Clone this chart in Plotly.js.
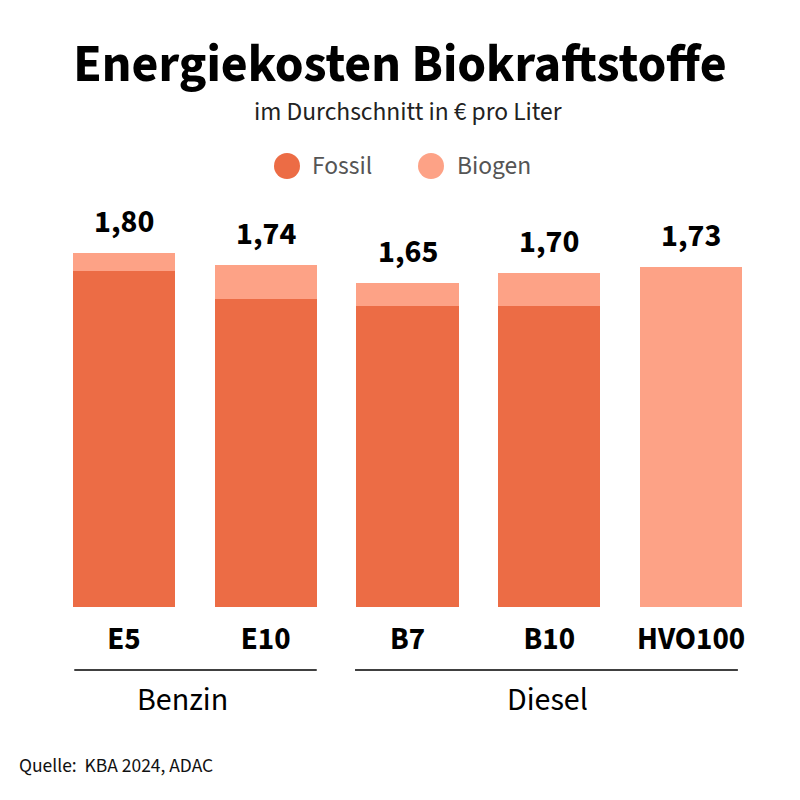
<!DOCTYPE html>
<html>
<head>
<meta charset="utf-8">
<script src="https://cdn.plot.ly/plotly-3.0.1.min.js"></script>
<style>html,body{margin:0;padding:0;background:#fff;}#chart{width:800px;height:800px;}</style>
</head>
<body>
<div id="chart"></div>
<script>
const categories = ["E5", "E10", "B7", "B10", "HVO100"];
const fossil = [1.71, 1.57, 1.53, 1.53, 0];
const biogen = [0.09, 0.17, 0.12, 0.17, 1.73];
const totals = [1.80, 1.74, 1.65, 1.70, 1.73];
const totalLabels = ["1,80", "1,74", "1,65", "1,70", "1,73"];
const groups = ["Benzin", "Diesel"];
const seriesNames = ["Fossil", "Biogen"];

const FONT = "'Source Sans Pro', 'Source Sans 3', Lato, 'Noto Sans', sans-serif";
const cFossil = "#EC6C45";
const cBiogen = "#FDA286";

const traces = [
  {type: "bar", name: seriesNames[0], x: categories, y: fossil, marker: {color: cFossil}, showlegend: false, hoverinfo: "none"},
  {type: "bar", name: seriesNames[1], x: categories, y: biogen, marker: {color: cBiogen}, showlegend: false, hoverinfo: "none"}
];

// pixel -> paper helpers (plot area: x 53..762, y 214..607)
const L = 53, R = 38, T = 214, B = 193, W = 800, H = 800;
const pw = W - L - R, ph = H - T - B;
const px = v => (v - L) / pw;
const py = v => (H - B - v) / ph;

const annotations = [];
categories.forEach((c, i) => {
  annotations.push({x: c, y: totals[i], xref: "x", yref: "y", text: totalLabels[i], showarrow: false,
    yanchor: "bottom", yshift: 6, font: {family: FONT, size: 32, color: "#000", weight: "bold"}});
});
annotations.push({xref: "paper", yref: "paper", x: 0.5, y: py(112), text: "im Durchschnitt in € pro Liter",
  showarrow: false, xanchor: "center", yanchor: "middle", font: {family: FONT, size: 25.5, color: "#222"}});
annotations.push({xref: "paper", yref: "paper", x: px(310), y: py(166), text: seriesNames[0], showarrow: false,
  xanchor: "left", yanchor: "middle", font: {family: FONT, size: 25.5, color: "#555"}});
annotations.push({xref: "paper", yref: "paper", x: px(455), y: py(166), text: seriesNames[1], showarrow: false,
  xanchor: "left", yanchor: "middle", font: {family: FONT, size: 25.5, color: "#555"}});
annotations.push({xref: "x", yref: "paper", x: 0.41, y: py(700), text: groups[0], showarrow: false,
  xanchor: "center", yanchor: "middle", font: {family: FONT, size: 32, color: "#000"}});
annotations.push({xref: "x", yref: "paper", x: 2.99, y: py(700), text: groups[1], showarrow: false,
  xanchor: "center", yanchor: "middle", font: {family: FONT, size: 32, color: "#000"}});
annotations.push({xref: "paper", yref: "paper", x: px(17), y: py(766), text: "Quelle:  KBA 2024, ADAC", showarrow: false,
  xanchor: "left", yanchor: "middle", font: {family: FONT, size: 19.5, color: "#111"}});

const shapes = [
  {type: "circle", xref: "paper", yref: "paper", xsizemode: "pixel", ysizemode: "pixel",
   xanchor: px(287), yanchor: py(166), x0: -13, x1: 13, y0: -13, y1: 13, fillcolor: cFossil, line: {width: 0}},
  {type: "circle", xref: "paper", yref: "paper", xsizemode: "pixel", ysizemode: "pixel",
   xanchor: px(431), yanchor: py(166), x0: -13, x1: 13, y0: -13, y1: 13, fillcolor: cBiogen, line: {width: 0}},
  {type: "line", xref: "x", yref: "paper", x0: -0.35, x1: 1.36, y0: py(670), y1: py(670), line: {color: "#000", width: 1.5}},
  {type: "line", xref: "x", yref: "paper", x0: 1.63, x1: 4.33, y0: py(670), y1: py(670), line: {color: "#000", width: 1.5}}
];

const layout = {
  width: W, height: H,
  margin: {l: L, r: R, t: T, b: B},
  paper_bgcolor: "#fff", plot_bgcolor: "#fff",
  barmode: "stack", bargap: 0.28,
  showlegend: false,
  title: {text: "<b>Energiekosten Biokraftstoffe</b>", x: 0.5, xanchor: "center", y: 1 - 63 / 800, yref: "container", yanchor: "middle",
    font: {family: FONT, size: 52, color: "#000"}},
  xaxis: {type: "category", showgrid: false, zeroline: false, showline: false, ticks: "",
    tickfont: {family: FONT, size: 31, color: "#000", weight: "bold"}, ticklabelstandoff: 10, fixedrange: true},
  yaxis: {range: [0, 2], visible: false, showgrid: false, zeroline: false, fixedrange: true},
  annotations: annotations,
  shapes: shapes
};

Plotly.newPlot("chart", traces, layout, {displayModeBar: false, staticPlot: true});
</script>
</body>
</html>
